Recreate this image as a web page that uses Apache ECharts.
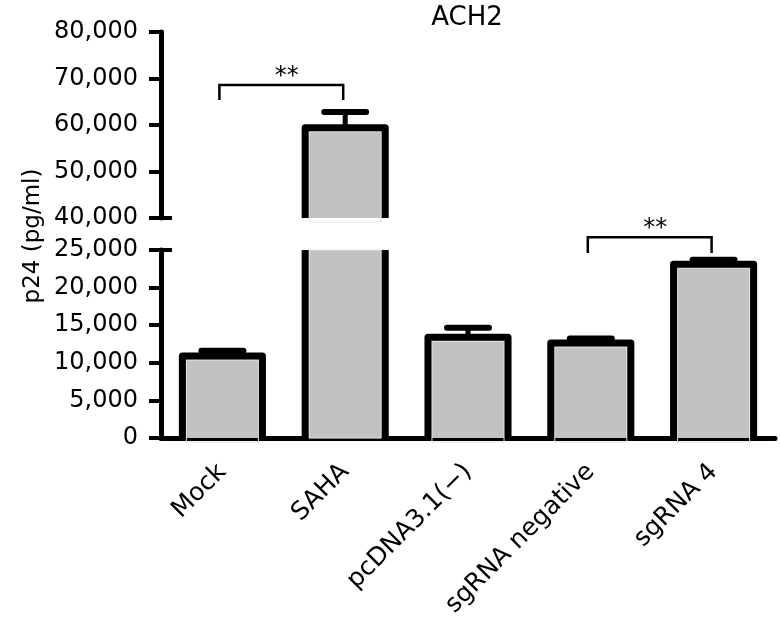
<!DOCTYPE html>
<html>
<head>
<meta charset="utf-8">
<script src="https://cdn.jsdelivr.net/npm/echarts@6/dist/echarts.min.js"></script>
<style>
  html, body { margin: 0; padding: 0; background: #fff; }
  #chart { width: 780px; height: 620px; }
</style>
</head>
<body>
<div id="chart"></div>
<script>
// ---- data ----
const categories = ['Mock', 'SAHA', 'pcDNA3.1(\u2212)', 'sgRNA negative', 'sgRNA 4'];
const meanValues = [10900, 59400, 13400, 12650, 23100];
const errorValues = [700, 3400, 1250, 600, 600];
const lowerTicks = [0, 5000, 10000, 15000, 20000, 25000];
const upperTicks = [40000, 50000, 60000, 70000, 80000];
const sigPairs = [[0, 1], [3, 4]];
const sigLabels = ['**', '**'];
const sigBracketTop = [68600, 26700];
const sigBracketLeg = [65400, 24600];
const sigPanel = [1, 0]; // 1 = upper segment, 0 = lower segment
const titleText = 'ACH2';
const yName = 'p24 (pg/ml)';

const FONT = '"DejaVu Sans", sans-serif';
const barData = categories.map((c, i) => [i, meanValues[i], errorValues[i]]);

function fmt(v) { return String(v).replace(/\B(?=(\d{3})+(?!\d))/g, ','); }

function renderBar(params, api) {
  const idx = api.value(0), val = api.value(1), err = api.value(2);
  const cs = params.coordSys;
  const gTop = cs.y, gBot = cs.y + cs.height;
  const c = api.coord([idx, val]);
  const b = api.coord([idx, 0]);
  const x = c[0];
  const hw = api.size([1, 0])[0] * 0.652 / 2;
  const clipTop = c[1] < gTop;
  const yT = Math.max(c[1], gTop);
  const yB = Math.min(b[1], gBot);
  if (yT >= yB) return null;
  const children = [];
  children.push({ type: 'rect', shape: { x: x - hw, y: yT, width: hw * 2, height: yB - yT },
    style: { fill: '#c2c2c2', stroke: null } });
  children.push({ type: 'rect', shape: { x: x - hw + 4, y: clipTop ? yT : yT + 4, width: hw * 2 - 8, height: yB - yT },
    style: { fill: 'none', stroke: '#e4e4e4', lineWidth: 1 } });
  const strokeStyle = { stroke: '#000', lineWidth: 7, fill: null, lineJoin: 'round' };
  if (!clipTop) {
    children.push({ type: 'polyline', shape: { points: [[x - hw, yB], [x - hw, yT], [x + hw, yT], [x + hw, yB]] }, style: strokeStyle });
    const e = api.coord([idx, val + err]);
    children.push({ type: 'line', shape: { x1: x, y1: yT, x2: x, y2: e[1] }, style: { stroke: '#000', lineWidth: 5 } });
    children.push({ type: 'line', shape: { x1: x - 21, y1: e[1], x2: x + 21, y2: e[1] }, style: { stroke: '#000', lineWidth: 6, lineCap: 'round' } });
  } else {
    children.push({ type: 'line', shape: { x1: x - hw, y1: yB, x2: x - hw, y2: yT }, style: strokeStyle });
    children.push({ type: 'line', shape: { x1: x + hw, y1: yB, x2: x + hw, y2: yT }, style: strokeStyle });
  }
  return { type: 'group', children };
}

function renderBreak(which) {
  return function (params, api) {
    const cs = params.coordSys;
    const y = which === 'upper' ? cs.y + cs.height : cs.y;
    return { type: 'line', shape: { x1: cs.x - 12, y1: y, x2: cs.x + 11, y2: y },
      style: { stroke: '#000', lineWidth: 4 } };
  };
}

function renderSig(k) {
  return function (params, api) {
    const [i, j] = sigPairs[k];
    const l = api.coord([i, sigBracketLeg[k]]);
    const t = api.coord([i, sigBracketTop[k]]);
    const r = api.coord([j, sigBracketLeg[k]]);
    return { type: 'group', children: [
      { type: 'polyline', shape: { points: [[l[0] - 3, l[1]], [l[0] - 3, t[1]], [r[0] - 2, t[1]], [r[0] - 2, r[1]]] },
        style: { stroke: '#000', lineWidth: 2.5, fill: null } },
      { type: 'text', style: { text: sigLabels[k], x: (l[0] + r[0]) / 2 + 3, y: t[1] - 8,
        align: 'center', verticalAlign: 'middle', textAlign: 'center', textVerticalAlign: 'middle',
        font: '24px ' + FONT, fill: '#000' } }
    ] };
  };
}

const axisLabelStyle = { color: '#000', fontSize: 24, fontFamily: FONT };

const option = {
  animation: false,
  backgroundColor: '#fff',
  graphic: [
    { type: 'text', x: 467, y: 18, style: { text: titleText, font: '26px ' + FONT, fill: '#000',
      align: 'center', verticalAlign: 'middle', textAlign: 'center', textVerticalAlign: 'middle' } },
    { type: 'text', x: 33, y: 236, rotation: Math.PI / 2, style: { text: yName, font: '23px ' + FONT, fill: '#000',
      align: 'center', verticalAlign: 'middle', textAlign: 'center', textVerticalAlign: 'middle' } }
  ],
  grid: [
    { left: 161, right: 5, top: 250, bottom: 181 },
    { left: 161, right: 5, top: 32, height: 186 }
  ],
  xAxis: [
    { type: 'category', gridIndex: 0, data: categories, boundaryGap: true,
      axisLine: { lineStyle: { color: '#000', width: 5 } },
      axisTick: { alignWithLabel: true, length: 13, lineStyle: { color: '#000', width: 3 } },
      axisLabel: Object.assign({ rotate: 45, margin: 30, interval: 0 }, axisLabelStyle, { fontSize: 25 }) },
    { type: 'category', gridIndex: 1, data: categories, boundaryGap: true, show: false }
  ],
  yAxis: [
    { type: 'value', gridIndex: 0, min: lowerTicks[0], max: lowerTicks[lowerTicks.length - 1], interval: 5000,
      splitLine: { show: false },
      axisLine: { show: true, lineStyle: { color: '#000', width: 5 } },
      axisTick: { show: true, length: 12, lineStyle: { color: '#000', width: 4 } },
      axisLabel: Object.assign({ margin: 23, formatter: fmt }, axisLabelStyle) },
    { type: 'value', gridIndex: 1, min: upperTicks[0], max: upperTicks[upperTicks.length - 1], interval: 10000,
      splitLine: { show: false },
      axisLine: { show: true, lineStyle: { color: '#000', width: 5 } },
      axisTick: { show: true, length: 12, lineStyle: { color: '#000', width: 4 } },
      axisLabel: Object.assign({ margin: 23, formatter: fmt }, axisLabelStyle) }
  ],
  series: [
    { type: 'custom', xAxisIndex: 0, yAxisIndex: 0, renderItem: renderBar, data: barData,
      encode: { x: 0, y: 1 }, clip: false, z: 1 },
    { type: 'custom', xAxisIndex: 1, yAxisIndex: 1, renderItem: renderBar, data: barData,
      encode: { x: 0, y: 1 }, clip: false, z: 1 },
    { type: 'custom', xAxisIndex: 0, yAxisIndex: 0, renderItem: renderBreak('lower'), data: [[0, lowerTicks[lowerTicks.length - 1]]],
      encode: { x: 0, y: 1 }, clip: false, z: 5 },
    { type: 'custom', xAxisIndex: 1, yAxisIndex: 1, renderItem: renderBreak('upper'), data: [[0, upperTicks[0]]],
      encode: { x: 0, y: 1 }, clip: false, z: 5 },
  ].concat(sigPairs.map((p, k) => ({
    type: 'custom', xAxisIndex: sigPanel[k], yAxisIndex: sigPanel[k], renderItem: renderSig(k),
    data: [[p[0], sigBracketTop[k]]], encode: { x: 0, y: 1 }, clip: false, z: 6
  })))
};

const chart = echarts.init(document.getElementById('chart'), null, { renderer: 'canvas' });
chart.setOption(option);
</script>
</body>
</html>
